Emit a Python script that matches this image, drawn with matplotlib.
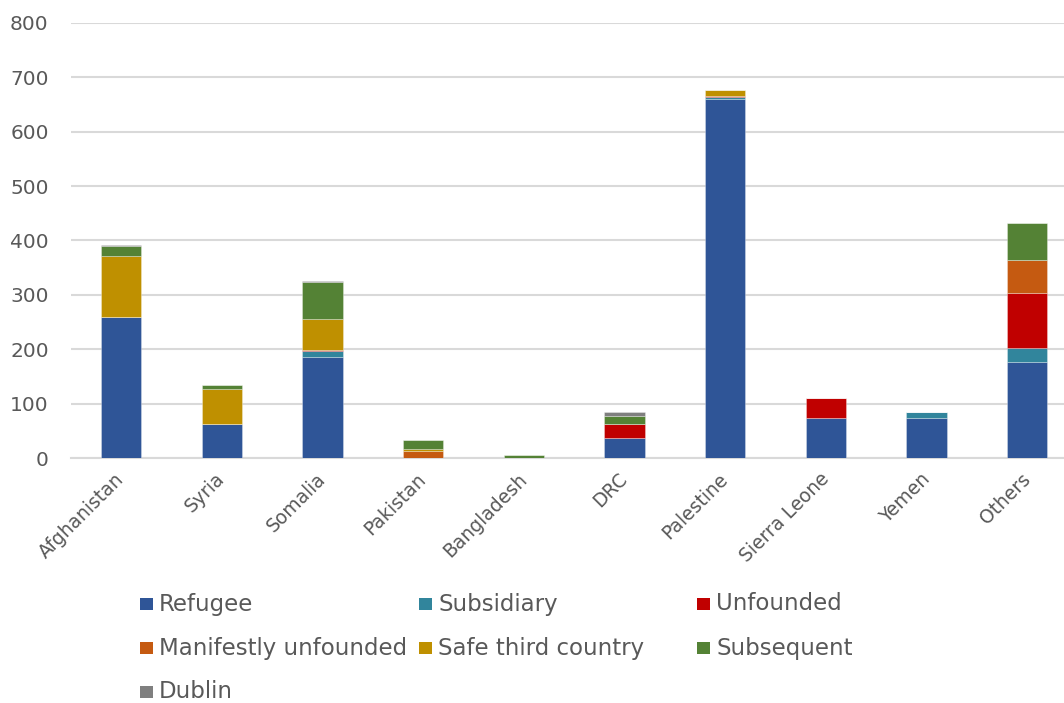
import matplotlib
matplotlib.use("Agg")
import matplotlib.pyplot as plt
from matplotlib.patches import Rectangle
import numpy as np

plt.rcParams['font.family'] = ['DejaVu Sans']

countries = ["Afghanistan", "Syria", "Somalia", "Pakistan", "Bangladesh",
             "DRC", "Palestine", "Sierra Leone", "Yemen", "Others"]

refugee      = [259, 63, 185, 0, 0, 36, 661, 74, 74, 177]
subsidiary   = [0, 0, 11, 0, 0, 0, 2, 0, 11, 26]
unfounded    = [0, 0, 3, 0, 0, 26, 2, 37, 0, 100]
manifestly   = [0, 0, 0, 13, 0, 0, 0, 0, 0, 61]
safe_third   = [113, 64, 56, 3, 0, 0, 12, 0, 0, 0]
subsequent   = [17, 7, 69, 18, 5, 15, 0, 0, 0, 69]
dublin       = [3, 0, 2, 0, 0, 8, 0, 0, 0, 0]

series_names = ["Refugee", "Subsidiary", "Unfounded", "Manifestly unfounded",
                "Safe third country", "Subsequent", "Dublin"]
series_values = [refugee, subsidiary, unfounded, manifestly,
                 safe_third, subsequent, dublin]
colors = ["#2F5597", "#31859C", "#C00000", "#C55A11",
          "#BF9000", "#548235", "#7F7F7F"]

y_ticks = [0, 100, 200, 300, 400, 500, 600, 700, 800]

text_color = "#595959"
grid_color = "#D9D9D9"

fig = plt.figure(figsize=(10.64, 7.03), dpi=100)
ax = fig.add_axes([0.0667, 0.3485, 0.9461, 0.6188])

x = np.arange(len(countries))
bottom = np.zeros(len(countries))
for name, vals, col in zip(series_names, series_values, colors):
    vals = np.array(vals, dtype=float)
    ax.bar(x, vals, width=0.4, bottom=bottom, color=col,
           edgecolor=(1, 1, 1, 0.35), linewidth=0.6, zorder=3)
    bottom += vals

ax.set_xlim(-0.5, len(countries) - 0.5)
ax.set_ylim(0, 800)
ax.set_yticks(y_ticks)
ax.set_yticklabels([str(v) for v in y_ticks])
ax.yaxis.grid(True, color=grid_color, linewidth=1.5, zorder=0)
ax.set_axisbelow(True)

for side in ["left", "right", "top"]:
    ax.spines[side].set_visible(False)
ax.spines["bottom"].set_color(grid_color)
ax.spines["bottom"].set_linewidth(1.5)
ax.spines["bottom"].set_zorder(1)

ax.tick_params(axis="y", length=0, pad=16, labelsize=14.5, labelcolor=text_color)
ax.tick_params(axis="x", length=0, pad=13, labelsize=13.5, labelcolor=text_color)
ax.set_xticks(x)
ax.set_xticklabels(countries, rotation=45, ha="right", va="center",
                   rotation_mode="anchor")

# Legend laid out in three equal-width columns
W, H = 1064.0, 703.0
col_x = [140, 419, 697]
row_y = [604, 648, 692]
sq = 12.5
for i, (name, col) in enumerate(zip(series_names, colors)):
    r, c = divmod(i, 3)
    px, py = col_x[c], row_y[r]
    fig.add_artist(Rectangle((px / W, 1 - (py + sq / 2) / H), sq / W, sq / H,
                             transform=fig.transFigure, facecolor=col,
                             edgecolor="none"))
    fig.text((px + 19) / W, 1 - py / H, name, fontsize=16.5,
             color=text_color, ha="left", va="center")

fig.savefig("out.png", dpi=100)
